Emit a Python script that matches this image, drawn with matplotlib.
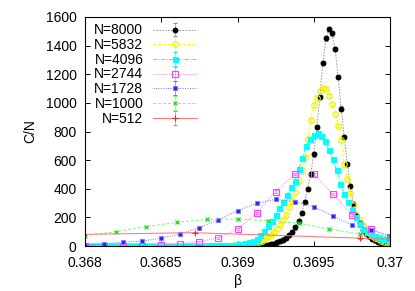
import numpy as np
import matplotlib
matplotlib.use("Agg")
import matplotlib.pyplot as plt

plt.rcParams['font.family'] = ['Liberation Sans', 'DejaVu Sans']

# --- data ---
labels = ["N=8000", "N=5832", "N=4096", "N=2744", "N=1728", "N=1000", "N=512"]

beta_8000 = np.linspace(0.368, 0.370, 101)
cn_8000 = [0.5] * 50 + [
    0.5, 0.5, 1, 1, 1, 1, 1, 2, 3, 5,
    8, 11, 17, 25, 34, 45, 58, 75, 100, 130,
    172, 230, 305, 400, 500, 640, 830, 1040, 1280, 1450,
    1518, 1485, 1375, 1180, 960, 760, 575, 420, 290, 215,
    158, 115, 88, 67, 51, 39, 28, 19, 11, 6,
    3]

beta_5832 = np.linspace(0.368, 0.370, 101)
cn_5832 = [1] * 40 + [
    1, 1, 1, 1, 2, 2, 2, 3, 3, 4,
    5, 6, 7, 8, 9, 12, 18, 25, 35, 47,
    62, 80, 95, 120, 150, 180, 220, 270, 315, 375,
    455, 530, 620, 750, 880, 985, 1035, 1083, 1107, 1100,
    1050, 990, 920, 840, 740, 570, 465, 370, 285, 220,
    180, 145, 110, 88, 70, 57, 47, 38, 31, 26,
    22]

beta_4096 = np.linspace(0.368, 0.370, 81)
cn_4096 = [2] * 30 + [
    2, 3, 3, 4, 4, 5, 6, 7, 8, 10,
    12, 15, 20, 26, 35, 50, 75, 108, 143, 178,
    218, 265, 308, 358, 410, 455, 535, 612, 700, 750,
    778, 787, 768, 735, 670, 605, 530, 435, 362, 310,
    255, 200, 155, 122, 97, 79, 70, 60, 52, 46,
    42]

beta_2744 = np.linspace(0.368, 0.370, 17)
cn_2744 = [2, 2, 3, 3, 4, 15, 30, 58, 117, 230, 380, 503, 500, 363, 217, 117, 65]

beta_1728 = np.linspace(0.368, 0.370, 17)
cn_1728 = [7, 14, 26, 35, 54, 84, 128, 182, 247, 298, 326, 310, 275, 210, 147, 112, 72]

beta_1000 = np.linspace(0.368, 0.370, 11)
cn_1000 = [72, 100, 135, 165, 186, 188, 175, 160, 119, 84, 63]

beta_512 = [0.36764, 0.36872, 0.3698, 0.37088]
cn_512 = [76, 93, 55, 10]

errs = [15, 12, 8, 8, 6, 5, 4]

series = [(beta_8000, cn_8000), (beta_5832, cn_5832), (beta_4096, cn_4096),
          (beta_2744, cn_2744), (beta_1728, cn_1728), (beta_1000, cn_1000),
          (beta_512, cn_512)]

styles = [
    dict(color='#909090', ls=(0, (1.5, 1.5)), marker='o', ms=3.4, mfc='black', mec='black'),
    dict(color='#ffff00', ls=(0, (3, 2)), marker='o', ms=4, mfc='none', mec='#f0f000'),
    dict(color='#00ffff', ls=(0, (4, 1.5, 1, 1.5)), marker='s', ms=3.6, mfc='#00ffff', mec='#00ffff'),
    dict(color='#ff80ff', ls=(0, (1, 1)), marker='s', ms=4, mfc='none', mec='#ff40ff'),
    dict(color='#7070ff', ls=(0, (1, 1.5)), marker='s', ms=3.2, mfc='#2020ff', mec='#8080ff'),
    dict(color='#70ff70', ls=(0, (3, 2)), marker='x', ms=3.5, mfc='none', mec='#20d020'),
    dict(color='#ff7070', ls='-', marker='+', ms=4.5, mfc='none', mec='#ff2020'),
]

fig = plt.figure(figsize=(4.15, 2.91), dpi=100)
ax = fig.add_axes([85 / 415, 1 - 246 / 291, 305 / 415, 229 / 291])

for (b, c), lab, st, e in zip(series, labels, styles, errs):
    ax.errorbar(b, c, yerr=e, label=lab, lw=0.7, capsize=1.3, elinewidth=0.5,
                ecolor=st['color'], mew=0.8, **st)

ax.set_xlim(0.368, 0.370)
ax.set_ylim(0, 1600)
ax.set_xticks([0.368, 0.3685, 0.369, 0.3695, 0.370])
ax.set_xticklabels(["0.368", "0.3685", "0.369", "0.3695", "0.37"])
ax.set_yticks(range(0, 1601, 200))
ax.tick_params(direction='in', top=True, right=True, length=3.5, width=0.7,
               labelsize=10)
ax.tick_params(axis='x', pad=7.5)
ax.tick_params(axis='y', pad=6)
for s in ax.spines.values():
    s.set_linewidth(0.8)

ax.set_xlabel("β", fontsize=10, labelpad=2.5)
ax.set_ylabel("C/N", fontsize=10, labelpad=6)

ax.legend(loc='upper left', bbox_to_anchor=(0.03, 0.972), frameon=False,
          markerfirst=False, fontsize=10, handlelength=3.2, handletextpad=0.7,
          labelspacing=0.05, borderpad=0, borderaxespad=0)

fig.savefig("out.png", dpi=100)
